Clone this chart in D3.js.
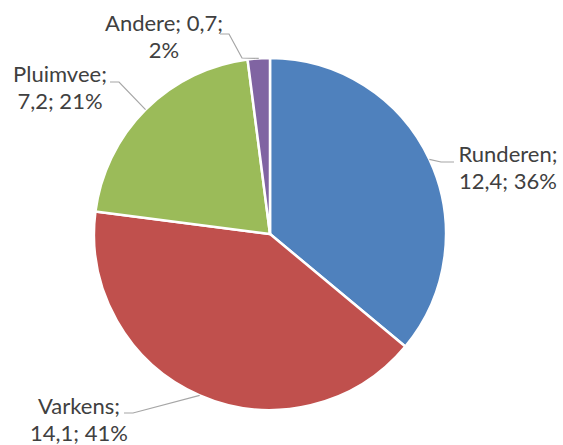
<!DOCTYPE html>
<html><head><meta charset="utf-8">
<script src="https://cdn.jsdelivr.net/npm/d3@7"></script>
<style>body{margin:0;background:#fff}svg{display:block}</style>
</head><body>
<svg id="c" width="563" height="445"></svg>
<script>
const categories = ["Runderen", "Varkens", "Pluimvee", "Andere"];
const values = [12.4, 14.1, 7.2, 0.7];
const valueLabels = ["12,4", "14,1", "7,2", "0,7"];
const percentLabels = ["36%", "41%", "21%", "2%"];
const colors = ["#4F81BD", "#C0504D", "#9BBB59", "#8064A2"];

// layout (not data)
const cx = 270, cy = 234, R = 176;
const labelLayout = [
  {lines: d => [d.cat + ";", d.val + "; " + d.pct], x: 508, y: 162, elbow: [441, 162], end: [454, 162]},
  {lines: d => [d.cat + ";", d.val + "; " + d.pct], x: 79, y: 414, elbow: [133, 413], end: [124, 413]},
  {lines: d => [d.cat + ";", d.val + "; " + d.pct], x: 60, y: 82, elbow: [119, 82], end: [110, 82]},
  {lines: d => [d.cat + "; " + d.val + ";", d.pct], x: 164, y: 31, elbow: [229, 34], end: [220, 34], pre: [242, 58]}
];
const lineGap = 27;

const svg = d3.select("#c");
const g = svg.append("g").attr("transform", `translate(${cx},${cy})`);
const pie = d3.pie().sort(null).value(d => d.v);
const data = categories.map((c, i) => ({cat: c, v: values[i], val: valueLabels[i], pct: percentLabels[i], color: colors[i]}));
const arcs = pie(data);
const arc = d3.arc().innerRadius(0).outerRadius(R);

g.selectAll("path.slice").data(arcs).join("path")
  .attr("class", "slice")
  .attr("d", arc)
  .attr("fill", d => d.data.color)
  .attr("stroke", "#fff").attr("stroke-width", 2.5).attr("stroke-linejoin", "round");

// leader lines
arcs.forEach((a, i) => {
  const L = labelLayout[i];
  const mid = (a.startAngle + a.endAngle) / 2;
  const p0 = [cx + R * Math.sin(mid), cy - R * Math.cos(mid)];
  const pts = [p0];
  if (L.pre) pts.push(L.pre);
  pts.push(L.elbow, L.end);
  svg.append("polyline")
    .attr("points", pts.map(p => p.join(",")).join(" "))
    .attr("fill", "none").attr("stroke", "#A6A6A6").attr("stroke-width", 1.2);
});

// labels
arcs.forEach((a, i) => {
  const L = labelLayout[i];
  const t = svg.append("text")
    .attr("x", L.x).attr("y", L.y)
    .attr("text-anchor", "middle")
    .attr("font-family", "Lato, 'Liberation Sans', sans-serif")
    .attr("font-size", 22)
    .attr("fill", "#404040");
  L.lines(a.data).forEach((s, k) => {
    t.append("tspan").attr("x", L.x).attr("y", L.y + k * lineGap).text(s);
  });
});
</script>
</body></html>
